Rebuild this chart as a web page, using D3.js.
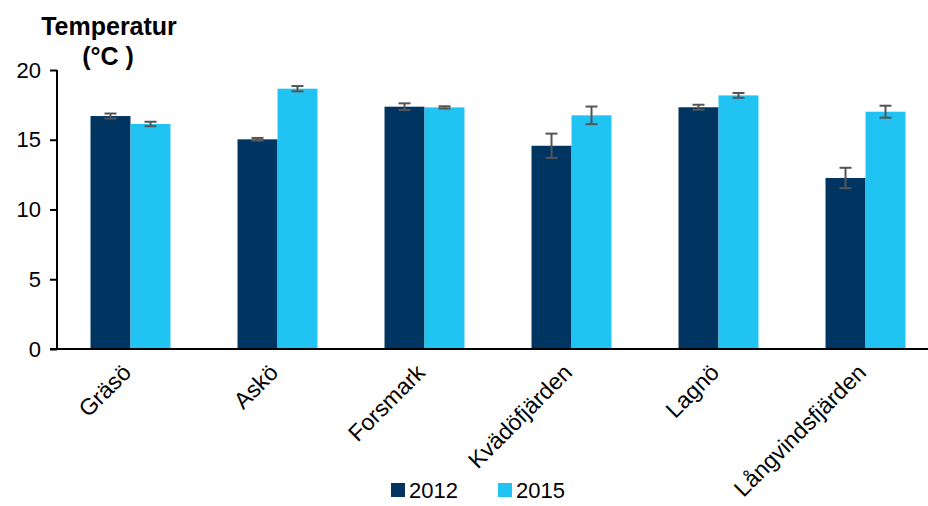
<!DOCTYPE html>
<html>
<head>
<meta charset="utf-8">
<script src="https://cdn.jsdelivr.net/npm/d3@7"></script>
<style>
body { margin: 0; background: #fff; }
svg { font-family: "Liberation Sans", Arial, sans-serif; }
</style>
</head>
<body>
<svg width="928" height="506"></svg>
<script>
var sites = ["Gräsö", "Askö", "Forsmark", "Kvädöfjärden", "Lagnö", "Långvindsfjärden"]
var years = ["2012", "2015"]
var temp2012 = [16.7, 15.03, 17.37, 14.57, 17.33, 12.26]
var err2012 = [0.18, 0.1, 0.24, 0.87, 0.18, 0.73]
var temp2015 = [16.13, 18.66, 17.32, 16.75, 18.18, 17.01]
var err2015 = [0.16, 0.19, 0.08, 0.63, 0.17, 0.43]
var yTicks = [0, 5, 10, 15, 20]
var colors = ["#003561", "#21c3f3"]

var svg = d3.select("svg")

var x = d3.scaleBand()
    .domain(sites)
    .range([57, 939])
    .paddingInner(0.456)
    .paddingOuter(0.228)

var sub = d3.scaleBand()
    .domain(years)
    .range([0, x.bandwidth()])

var y = d3.scaleLinear()
    .domain([0, 20])
    .range([349, 70])

var rows = []
sites.forEach(function(s, i)
{
    rows.push({site: s, year: "2012", v: temp2012[i], e: err2012[i]})
    rows.push({site: s, year: "2015", v: temp2015[i], e: err2015[i]})
})

svg.selectAll("rect.bar")
    .data(rows)
    .enter()
    .append("rect")
    .attr("class", "bar")
    .attr("x", function(d) { return x(d.site) + sub(d.year) })
    .attr("width", sub.bandwidth())
    .attr("y", function(d) { return y(d.v) })
    .attr("height", function(d) { return y(0) - y(d.v) })
    .attr("fill", function(d) { return colors[years.indexOf(d.year)] })

// error bars
var eb = svg.selectAll("g.err")
    .data(rows)
    .enter()
    .append("g")
    .attr("class", "err")
    .attr("stroke", "#555")
    .attr("stroke-width", 2)

eb.append("line")
    .attr("x1", function(d) { return x(d.site) + sub(d.year) + sub.bandwidth() / 2 })
    .attr("x2", function(d) { return x(d.site) + sub(d.year) + sub.bandwidth() / 2 })
    .attr("y1", function(d) { return y(d.v + d.e) })
    .attr("y2", function(d) { return y(d.v - d.e) })

eb.selectAll("line.cap")
    .data(function(d) { return [{d: d, v: d.v + d.e}, {d: d, v: d.v - d.e}] })
    .enter()
    .append("line")
    .attr("class", "cap")
    .attr("x1", function(c) { return x(c.d.site) + sub(c.d.year) + sub.bandwidth() / 2 - 6 })
    .attr("x2", function(c) { return x(c.d.site) + sub(c.d.year) + sub.bandwidth() / 2 + 6 })
    .attr("y1", function(c) { return y(c.v) })
    .attr("y2", function(c) { return y(c.v) })

// y axis
var yAxis = svg.append("g")
    .attr("transform", "translate(57,0)")
    .call(d3.axisLeft(y).tickValues(yTicks).tickSize(7).tickPadding(9))
yAxis.select(".domain").attr("stroke", "#000").attr("stroke-width", 2).attr("d", "M0,70V349")
yAxis.selectAll(".tick line").attr("stroke", "#000").attr("stroke-width", 2)
yAxis.selectAll(".tick text").attr("font-size", 22).attr("fill", "#000")

// x axis
svg.append("line")
    .attr("x1", 50).attr("x2", 928)
    .attr("y1", y(0)).attr("y2", y(0))
    .attr("stroke", "#000").attr("stroke-width", 2)

svg.selectAll("text.cat")
    .data(sites)
    .enter()
    .append("text")
    .attr("class", "cat")
    .attr("text-anchor", "end")
    .attr("font-size", 23)
    .attr("transform", function(d) {
        return "translate(" + (x(d) + x.bandwidth() / 2 + 2) + ",374) rotate(-45)"
    })
    .text(function(d) { return d })

// title
var title = svg.append("text")
    .attr("text-anchor", "middle")
    .attr("font-size", 25)
    .attr("font-weight", "bold")
title.append("tspan").attr("x", 109).attr("y", 35).text("Temperatur")
title.append("tspan").attr("x", 108).attr("y", 65).text("(°C )")

// legend
var leg = svg.selectAll("g.leg")
    .data(years)
    .enter()
    .append("g")
    .attr("class", "leg")
    .attr("transform", function(d, i) { return "translate(" + (391 + i * 107) + ",483)" })

leg.append("rect")
    .attr("width", 14).attr("height", 14)
    .attr("fill", function(d, i) { return colors[i] })

leg.append("text")
    .attr("x", 18).attr("y", 15)
    .attr("font-size", 22)
    .text(function(d) { return d })
</script>
</body>
</html>
